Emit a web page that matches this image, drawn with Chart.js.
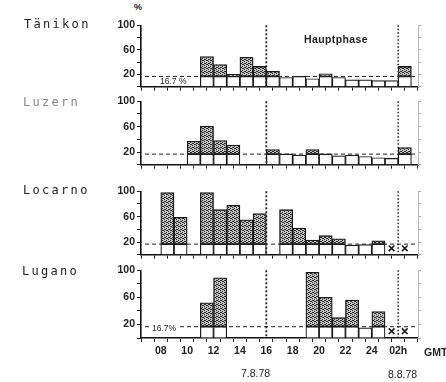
<!DOCTYPE html>
<html>
<head>
<meta charset="utf-8">
<script src="https://cdn.jsdelivr.net/npm/chart.js@4.4.1/dist/chart.umd.min.js"></script>
<style>
  html, body { margin: 0; padding: 0; background: #fff; }
  #page { position: relative; width: 446px; height: 382px; overflow: hidden; background: #fff; }
  .panel { position: absolute; left: 0; width: 446px; }
  .lbl { position: absolute; white-space: nowrap; font-family: "Liberation Sans", Arial, sans-serif; color: #222; line-height: 1; }
  .station { font-family: "DejaVu Sans Mono", monospace; font-size: 12px; letter-spacing: 2.3px; }
</style>
</head>
<body>
<div id="page">
  <div class="panel" id="p0"><canvas id="c0"></canvas></div>
  <div class="panel" id="p1"><canvas id="c1"></canvas></div>
  <div class="panel" id="p2"><canvas id="c2"></canvas></div>
  <div class="panel" id="p3"><canvas id="c3"></canvas></div>

  <div class="lbl station" style="left:24px;top:18px;">Tänikon</div>
  <div class="lbl station" style="left:23px;top:96px;color:#888;">Luzern</div>
  <div class="lbl station" style="left:23px;top:184px;">Locarno</div>
  <div class="lbl station" style="left:22px;top:265px;">Lugano</div>

  <div class="lbl" style="left:134px;top:3px;font-size:9px;font-weight:bold;">%</div>
  <div class="lbl" style="left:304px;top:34px;font-size:10.5px;font-weight:bold;letter-spacing:0.4px;">Hauptphase</div>
  <div class="lbl" style="left:158px;top:77px;font-size:8.5px;background:#fff;padding:0 2px;">16.7 %</div>
  <div class="lbl" style="left:150px;top:324px;font-size:8.5px;background:#fff;padding:0 2px;">16.7%</div>

  <div class="lbl" style="left:424px;top:347px;font-size:10.5px;font-weight:bold;">GMT</div>
  <div class="lbl" style="left:241px;top:368px;font-size:10.5px;">7.8.78</div>
  <div class="lbl" style="left:388px;top:369px;font-size:10.5px;">8.8.78</div>
</div>

<script>
// hourly bins, start hour of each bin (25 = 01h, 26 = 02h next day)
const binStarts = [7, 8, 9, 10, 11, 12, 13, 14, 15, 16, 17, 18, 19, 20, 21, 22, 23, 24, 25, 26];

// percentage per hourly bin, null = no bar
const taenikon = [null, null, null, null, 49, 36, 20, 48, 33, 25, 15, 17, 13, 21, 15, 11, 11, 10, 10, 33];
const luzern   = [null, null, null, 37, 61, 38, 31, null, null, 24, 17, 15, 24, 17, 14, 15, 13, 11, 10, 27];
const locarno  = [null, 98, 59, null, 98, 71, 78, 55, 65, null, 71, 42, 23, 30, 25, 15, 16, 22, null, null];
const lugano   = [null, null, null, null, 52, 89, null, null, null, null, null, null, 97, 60, 30, 56, 15, 39, null, null];

// bins marked X (no data)
const locarnoMissing = [25, 26];
const luganoMissing  = [25, 26];

const xTickHours  = [8, 10, 12, 14, 16, 18, 20, 22, 24, 26];
const xTickLabels = ['08', '10', '12', '14', '16', '18', '20', '22', '24', '02h'];
const yTickValues = [20, 60, 100];

const mean = 16.7;          // 16.7 % line
const phaseStart = 16;      // Hauptphase boundaries
const phaseEnd = 26;

// panel placement: y pixel of 100 % and of 0 %
const panels = [
  { id: 'c0', box: 'p0', data: taenikon, missing: [], top: 25, bottom: 90, labels: false },
  { id: 'c1', box: 'p1', data: luzern, missing: [], top: 101, bottom: 168, labels: false },
  { id: 'c2', box: 'p2', data: locarno, missing: locarnoMissing, top: 191, bottom: 258, labels: false },
  { id: 'c3', box: 'p3', data: lugano, missing: luganoMissing, top: 270, bottom: 338, labels: true }
];

function stipple() {
  const c = document.createElement('canvas');
  c.width = 4; c.height = 4;
  const g = c.getContext('2d');
  g.fillStyle = '#c4c4c4';
  g.fillRect(0, 0, 4, 4);
  g.fillStyle = '#2a2a2a';
  [[0, 0], [2, 1], [1, 2], [3, 3], [2, 3], [0, 2]].forEach(p => g.fillRect(p[0], p[1], 1, 1));
  return g.createPattern(c, 'repeat');
}
const dotFill = stipple();

// reference lines: 16.7 % and the phase boundaries
const refLines = {
  id: 'refLines',
  afterDatasetsDraw(chart) {
    const { ctx, chartArea, scales } = chart;
    const x = scales.x, y = scales.y;
    ctx.save();
    ctx.strokeStyle = '#222';
    ctx.lineWidth = 1;
    ctx.setLineDash([4, 3]);
    const ym = y.getPixelForValue(mean);
    ctx.beginPath();
    ctx.moveTo(chartArea.left + 4, ym);
    ctx.lineTo(chartArea.right, ym);
    ctx.stroke();

    ctx.lineWidth = 1.8;
    ctx.setLineDash([2, 2]);
    const x16 = x.getPixelForValue(phaseStart);
    ctx.beginPath();
    ctx.moveTo(x16, chartArea.top);
    ctx.lineTo(x16, chartArea.bottom);
    ctx.stroke();

    ctx.lineWidth = 1.5;
    ctx.setLineDash([1.5, 2]);
    const x26 = x.getPixelForValue(phaseEnd);
    ctx.beginPath();
    ctx.moveTo(x26, chartArea.top);
    ctx.lineTo(x26, chartArea.bottom);
    ctx.stroke();
    ctx.restore();
  }
};

panels.forEach(p => {
  const axisH = p.labels ? 22 : 5;
  const padTop = 8;
  const box = document.getElementById(p.box);
  box.style.top = (p.top - padTop) + 'px';
  box.style.height = (padTop + (p.bottom - p.top) + axisH) + 'px';

  const low = [], high = [];
  p.data.forEach((v, i) => {
    if (v === null) return;
    const xc = binStarts[i] + 0.5;
    low.push({ x: xc, y: [0, Math.min(v, mean)] });
    if (v > mean) high.push({ x: xc, y: [mean, v] });
  });
  const crosses = p.missing.map(h => ({ x: h + 0.5, y: 10 }));

  new Chart(document.getElementById(p.id), {
    type: 'bar',
    data: {
      datasets: [
        {
          data: low,
          backgroundColor: '#fff',
          borderColor: '#1a1a1a',
          borderWidth: 1.2,
          borderSkipped: 'bottom',
          grouped: false,
          barPercentage: 1,
          categoryPercentage: 1
        },
        {
          data: high,
          backgroundColor: dotFill,
          borderColor: '#1a1a1a',
          borderWidth: 1.3,
          borderSkipped: false,
          grouped: false,
          barPercentage: 1,
          categoryPercentage: 1
        },
        {
          type: 'scatter',
          data: crosses,
          pointStyle: 'crossRot',
          pointRadius: 4,
          borderColor: '#1a1a1a',
          borderWidth: 1.6
        }
      ]
    },
    options: {
      responsive: true,
      maintainAspectRatio: false,
      animation: false,
      layout: { padding: { top: padTop, right: 25, left: 0, bottom: 0 } },
      plugins: { legend: { display: false }, tooltip: { enabled: false } },
      scales: {
        x: {
          type: 'linear',
          min: 7,
          max: 27,
          afterFit: s => { s.height = axisH; },
          afterBuildTicks: s => {
            const t = [];
            for (let h = 7; h <= 27; h++) t.push({ value: h });
            s.ticks = t;
          },
          grid: { drawOnChartArea: false, tickLength: 4, color: '#222', lineWidth: 1 },
          border: { color: '#111', width: 1.6 },
          ticks: {
            display: p.labels,
            autoSkip: false,
            maxRotation: 0,
            padding: 3,
            color: '#222',
            font: { family: 'Liberation Sans', size: 10.5, weight: 'bold' },
            callback: v => {
              const i = xTickHours.indexOf(v);
              return i >= 0 ? xTickLabels[i] : '';
            }
          }
        },
        y: {
          min: 0,
          max: 100,
          afterFit: s => { s.width = 141; },
          grid: { drawOnChartArea: false, tickLength: 4, color: '#222' },
          border: { color: '#111', width: 1.6 },
          ticks: {
            stepSize: 20,
            autoSkip: false,
            padding: 2,
            color: '#222',
            font: { family: 'Liberation Sans', size: 10.5, weight: 'bold' },
            callback: v => yTickValues.includes(v) ? String(v) : ''
          }
        },
        yr: {
          position: 'right',
          min: 0,
          max: 100,
          afterFit: s => { s.width = 3; },
          grid: { drawOnChartArea: false, tickLength: 3, color: '#aaa' },
          border: { color: '#bbb', width: 1, dash: [1, 3] },
          ticks: { display: false, stepSize: 20, autoSkip: false }
        }
      }
    },
    plugins: [refLines]
  });
});
</script>
</body>
</html>
